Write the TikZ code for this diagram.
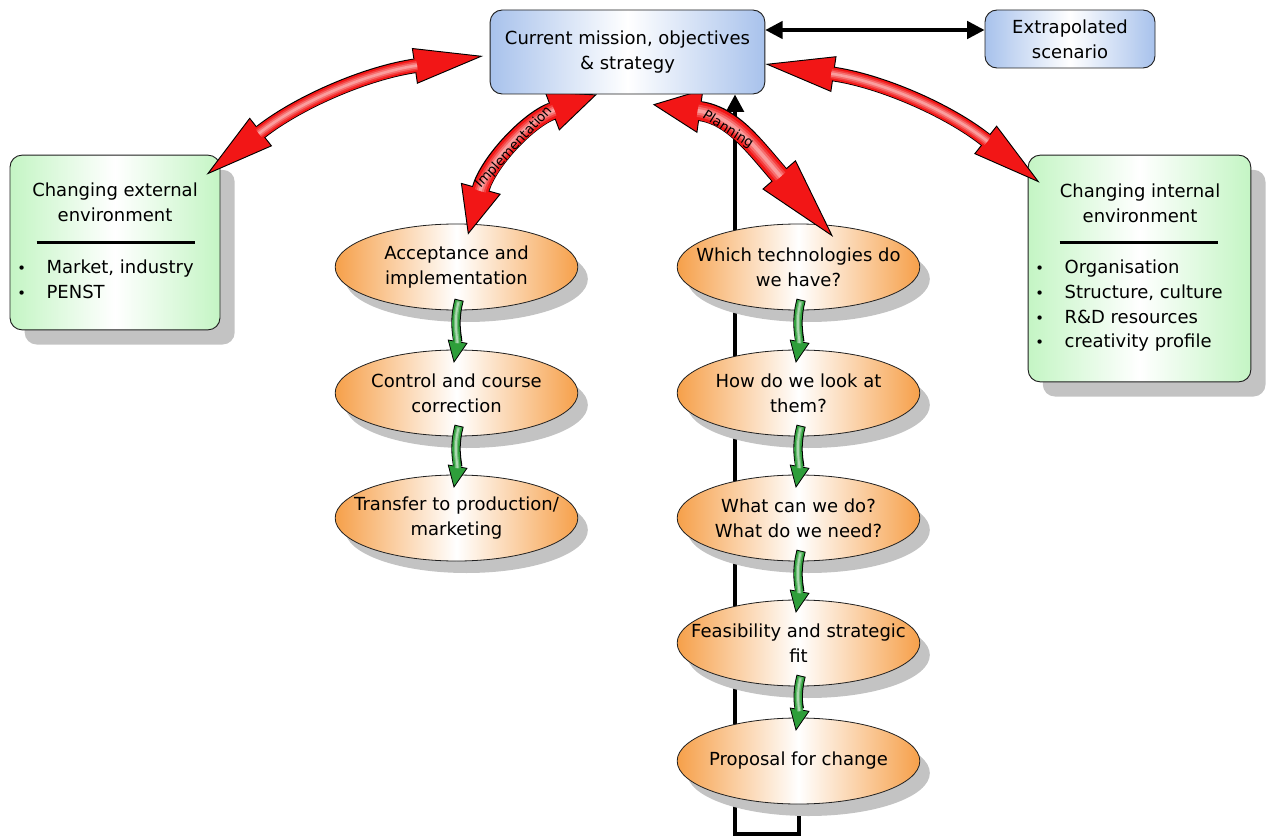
\documentclass[tikz,border=0pt]{standalone}
\usepackage{fontspec}
\setmainfont{DejaVu Sans}
\usetikzlibrary{arrows.meta,shapes.geometric,shadows,calc}
\usepackage{xcolor}
\definecolor{boxblue}{HTML}{A8C2EC}
\definecolor{boxgreen}{HTML}{C4F5C4}
\definecolor{ellorange}{HTML}{F6A04A}
\definecolor{arrowred}{HTML}{F21616}
\definecolor{arrowgreen}{HTML}{2E9E3A}
\definecolor{shadowgray}{HTML}{C3C3C3}
\definecolor{dark}{HTML}{202020}
\pgfdeclarelayer{back}
\pgfdeclarelayer{front}
\pgfsetlayers{back,main,front}
\newcommand{\itm}{\makebox[22pt][l]{\fontsize{11}{11}\selectfont\textbullet}}
\tikzset{
  box/.style={draw=dark, rounded corners=9pt, line width=0.7pt, align=center, inner sep=0pt},
  bluebox/.style={box, left color=boxblue, right color=boxblue, middle color=white},
  greenbox/.style={box, left color=boxgreen, right color=boxgreen, middle color=white,
    drop shadow={shadow xshift=11pt, shadow yshift=-11pt, fill=shadowgray, opacity=1}},
  oval/.style={ellipse, draw=dark, line width=0.6pt, minimum width=182pt, minimum height=64.5pt,
    inner xsep=-40pt, inner ysep=0pt, align=center,
    left color=ellorange, right color=ellorange, middle color=white,
    drop shadow={shadow xshift=7.5pt, shadow yshift=-9pt, fill=shadowgray, opacity=1}},
  txt/.style={align=center, inner sep=0pt},
  listtxt/.style={align=left, inner sep=0pt, anchor=north west},
  rulebar/.style={draw=black, line width=2.2pt},
  sidetip/.tip={Triangle[length=52pt, width=27pt, fill=arrowred, line width=0.7pt]},
  imptip/.tip={Triangle[length=36pt, width=31pt, fill=arrowred, line width=0.7pt]},
  plantip/.tip={Triangle[length=62pt, width=33pt, fill=arrowred, line width=0.7pt]},
  planbacktip/.tip={Triangle[length=36pt, width=33pt, fill=arrowred, line width=0.7pt]},
  greentip/.tip={Triangle[length=16.5pt, width=15pt, fill=arrowgreen, line width=0.6pt]},
  fatarrow/.style n args={3}{draw=black, line width=#1,
    postaction={draw=arrowred, line width=#1-1.4pt, -, shorten <=#2, shorten >=#3},
    postaction={draw=arrowred!82!white, line width=0.62*#1, -, shorten <=#2, shorten >=#3},
    postaction={draw=arrowred!62!white, line width=0.40*#1, -, shorten <=#2, shorten >=#3},
    postaction={draw=arrowred!42!white, line width=0.18*#1, -, shorten <=#2, shorten >=#3}},
  greenarrow/.style={draw=black, line width=7pt, -{greentip},
    postaction={draw=arrowgreen, line width=5.6pt, -, shorten <=0.7pt, shorten >=14.5pt},
    postaction={draw=arrowgreen!70!white, line width=3.2pt, -, shorten <=1pt, shorten >=15pt},
    postaction={draw=arrowgreen!40!white, line width=1.4pt, -, shorten <=2pt, shorten >=15pt}},
  linkarrow/.style={line width=2.6pt, {Triangle[length=13pt,width=13pt]}-{Triangle[length=13pt,width=13pt]}},
  looparrow/.style={line width=3pt, -{Triangle[length=13pt,width=13pt]}},
  armlabel/.style={sloped, inner sep=0pt, font=\fontsize{10}{12}\selectfont}
}
\begin{document}
\begin{tikzpicture}[x=0.75pt, y=0.75pt, every node/.style={font=\fontsize{13.5}{18.5}\selectfont}]
  \useasboundingbox (0,0) rectangle (1268,-838);
  % top row
  \begin{pgfonlayer}{front}
    \node[bluebox, minimum width=206pt, minimum height=63pt] (top) at (627.5,-52) {Current mission, objectives\\\& strategy};
  \end{pgfonlayer}
  \node[bluebox, minimum width=127.5pt, minimum height=43.5pt] (extrap) at (1070,-39) {Extrapolated\\scenario};
  \coordinate (linky) at ([yshift=6.75pt]extrap.west);
  \draw[linkarrow] (top.east |- linky) -- (linky);

  % environment boxes
  \node[greenbox, minimum width=157.5pt, minimum height=131pt] (extenv) at (115,-242.5) {};
  \node[txt] (exttitle) at (115,-202) {Changing external\\environment};
  \draw[rulebar] ($(extenv.north west)+(27,-88)$) -- ($(extenv.north east)+(-25,-88)$);
  \node[listtxt] (extlist) at (17,-260) {\itm Market, industry\\\itm PENST};

  \node[greenbox, minimum width=167pt, minimum height=170pt] (intenv) at (1139.5,-268.5) {};
  \node[txt] (inttitle) at (1140,-203) {Changing internal\\environment};
  \draw[rulebar] ($(intenv.north west)+(32,-88)$) -- ($(intenv.north east)+(-33,-88)$);
  \node[listtxt] (intlist) at (1035,-260) {\itm Organisation\\\itm Structure, culture\\\itm R\&D resources\\\itm creativity profile};

  % implementation column
  \node[oval] (accept) at (456.5,-267) {Acceptance and\\implementation};
  \node[oval] (control) at (456.5,-393) {Control and course\\correction};
  \node[oval] (transfer) at (456.5,-518) {Transfer to production/\\marketing};

  % planning column
  \node[oval] (which) at (798.5,-267) {Which technologies do\\we have?};
  \node[oval] (look) at (798.5,-393) {How do we look at\\them?};
  \node[oval] (cando) at (798.5,-518) {What can we do?\\What do we need?};
  \node[oval] (fit) at (798.5,-643) {Feasibility and strategic\\fit};
  \node[oval] (proposal) at (798.5,-761) {Proposal for change};

  % feedback loop
  \begin{pgfonlayer}{back}
    \draw[looparrow] (proposal.south) -- ++(0,-30) -| ($(top.south)+(107.5,0)$);
  \end{pgfonlayer}

  % step arrows
  \foreach \a/\b in {accept/control, control/transfer, which/look, look/cando, cando/fit, fit/proposal}
    \draw[greenarrow] ([xshift=2pt,yshift=8pt]\a.south) to[out=-105, in=80] ([xshift=-2pt,yshift=-10pt]\b.north);

  % red arrows
  \draw[fatarrow={11pt}{50pt}{50pt}, sidetip-sidetip] ([xshift=-5pt,yshift=-3pt]top.west) to[bend right=15] ([xshift=-10.5pt,yshift=-15pt]extenv.north east);
  \draw[fatarrow={11pt}{50pt}{50pt}, sidetip-sidetip] ([yshift=-9pt]top.east) to[bend left=15] ([xshift=9pt,yshift=-21pt]intenv.north west);
  \draw[fatarrow={13.5pt}{34pt}{34pt}, imptip-imptip] ([xshift=8.6pt,yshift=-8.25pt]accept.north) to[bend left=27]
    node[armlabel] (implabel) {Implementation} ([xshift=-23pt]top.south);
  \draw[fatarrow={15pt}{34pt}{60pt}, planbacktip-plantip] ([xshift=19pt,yshift=-7.5pt]top.south)
    to[out=-8, in=131, out looseness=0.92, in looseness=1.38]
    node[armlabel, pos=0.4] (planlabel) {Planning} ([xshift=26pt,yshift=-10pt]which.north);
\end{tikzpicture}
\end{document}
